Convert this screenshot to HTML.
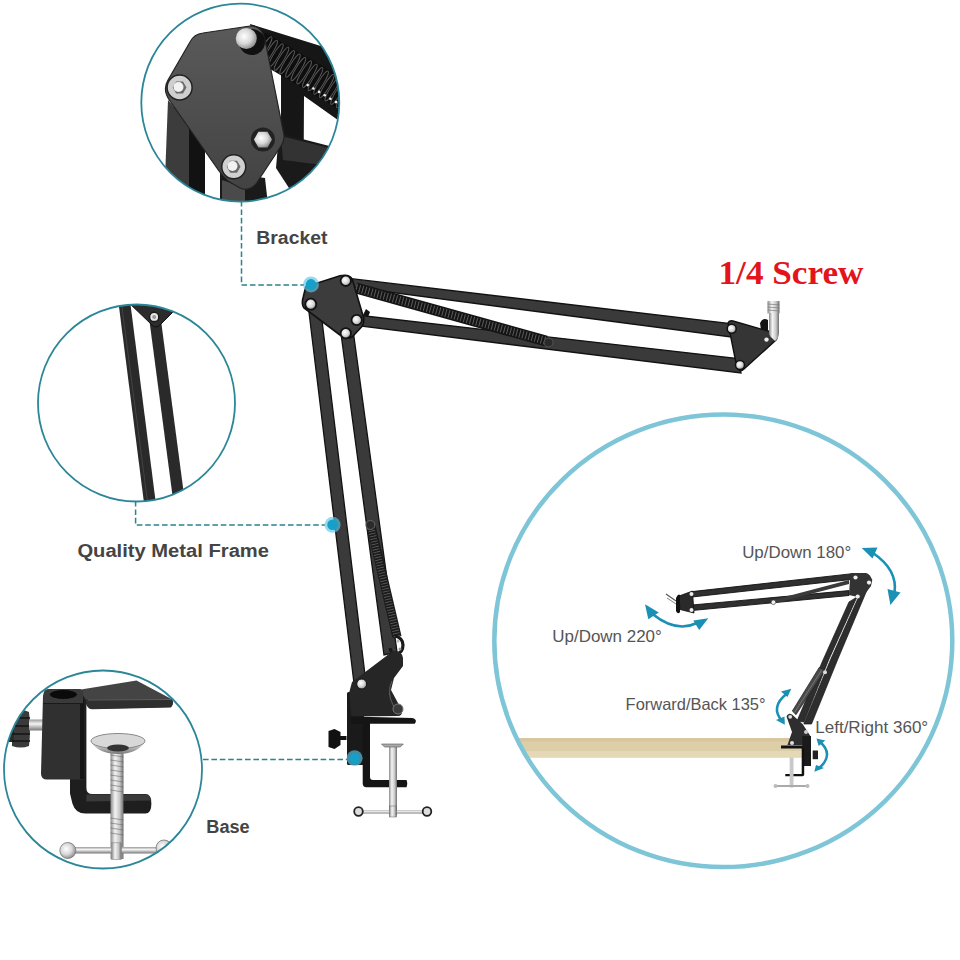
<!DOCTYPE html>
<html><head><meta charset="utf-8">
<style>
html,body{margin:0;padding:0;background:#fff;width:960px;height:960px;overflow:hidden}
svg{position:absolute;left:0;top:0;display:block}
</style></head>
<body>
<svg width="960" height="960" viewBox="0 0 960 960">
<defs>
  <clipPath id="c1"><circle cx="240.3" cy="102.6" r="99"/></clipPath>
  <clipPath id="c2"><circle cx="136.5" cy="403" r="98.5"/></clipPath>
  <clipPath id="c3"><circle cx="103" cy="769.5" r="99"/></clipPath>
  <clipPath id="c4"><ellipse cx="723.3" cy="640.8" rx="229" ry="226.3"/></clipPath>
  <linearGradient id="plate1" x1="0" y1="0" x2="0" y2="1">
    <stop offset="0" stop-color="#5a5a5a"/><stop offset="1" stop-color="#434343"/>
  </linearGradient>
  <radialGradient id="bolt" cx="0.4" cy="0.4" r="0.7">
    <stop offset="0" stop-color="#ffffff"/><stop offset="0.5" stop-color="#d8d8d8"/><stop offset="1" stop-color="#7a7a7a"/>
  </radialGradient>
  <linearGradient id="silver" x1="0" y1="0" x2="1" y2="0">
    <stop offset="0" stop-color="#8a8a8a"/><stop offset="0.35" stop-color="#f4f4f4"/><stop offset="0.7" stop-color="#c8c8c8"/><stop offset="1" stop-color="#6e6e6e"/>
  </linearGradient>
  <linearGradient id="silverv" x1="0" y1="0" x2="0" y2="1">
    <stop offset="0" stop-color="#9a9a9a"/><stop offset="0.4" stop-color="#f4f4f4"/><stop offset="1" stop-color="#777"/>
  </linearGradient>
</defs>

<!-- ===== Circle 1 : Bracket ===== -->
<g clip-path="url(#c1)">
  <!-- legs -->
  <polygon points="168,100 190,125 190,205 164,205" fill="#3c3c3c"/>
  <polygon points="189,125 205,145 205,205 189,205" fill="#121212"/>
  <polygon points="220,172 265,178 268,205 220,205" fill="#1a1a1a"/>
  <polygon points="222,180 245,188 245,205 222,205" fill="#4a4a4a"/>
  <!-- back vertical bar & top bar -->
  <polygon points="250,24 340,52 345,60 345,125 304,96 303.75,140 281,140 281,70 258,56" fill="#161616"/>
  <!-- lower bar -->
  <polygon points="279,133 345,150 345,205 300,205 276,168" fill="#1a1a1a"/>
  <polygon points="281,136 345,152 345,168 283,160" fill="#333"/>
  <!-- spring -->
  <line x1="258" y1="45" x2="350" y2="99" stroke="#0e0e0e" stroke-width="29"/>
  <ellipse cx="264.6" cy="48.5" rx="2.6" ry="13.5" transform="rotate(31.1 264.6 48.5)" fill="none" stroke="#6a6a6a" stroke-width="0.9" opacity="0.8"/>
  <ellipse cx="270.2" cy="52.0" rx="2.6" ry="13.5" transform="rotate(31.1 270.2 52.0)" fill="none" stroke="#6a6a6a" stroke-width="0.9" opacity="0.8"/>
  <ellipse cx="275.9" cy="55.4" rx="2.6" ry="13.5" transform="rotate(31.1 275.9 55.4)" fill="none" stroke="#6a6a6a" stroke-width="0.9" opacity="0.8"/>
  <ellipse cx="281.5" cy="58.8" rx="2.6" ry="13.5" transform="rotate(31.1 281.5 58.8)" fill="none" stroke="#6a6a6a" stroke-width="0.9" opacity="0.8"/>
  <ellipse cx="287.2" cy="62.2" rx="2.6" ry="13.5" transform="rotate(31.1 287.2 62.2)" fill="none" stroke="#6a6a6a" stroke-width="0.9" opacity="0.8"/>
  <ellipse cx="292.9" cy="65.6" rx="2.6" ry="13.5" transform="rotate(31.1 292.9 65.6)" fill="none" stroke="#6a6a6a" stroke-width="0.9" opacity="0.8"/>
  <ellipse cx="298.5" cy="69.0" rx="2.6" ry="13.5" transform="rotate(31.1 298.5 69.0)" fill="none" stroke="#6a6a6a" stroke-width="0.9" opacity="0.8"/>
  <ellipse cx="304.2" cy="72.4" rx="2.6" ry="13.5" transform="rotate(31.1 304.2 72.4)" fill="none" stroke="#6a6a6a" stroke-width="0.9" opacity="0.8"/>
  <ellipse cx="309.8" cy="75.8" rx="2.6" ry="13.5" transform="rotate(31.1 309.8 75.8)" fill="none" stroke="#6a6a6a" stroke-width="0.9" opacity="0.8"/>
  <ellipse cx="315.5" cy="79.2" rx="2.6" ry="13.5" transform="rotate(31.1 315.5 79.2)" fill="none" stroke="#6a6a6a" stroke-width="0.9" opacity="0.8"/>
  <ellipse cx="321.1" cy="82.6" rx="2.6" ry="13.5" transform="rotate(31.1 321.1 82.6)" fill="none" stroke="#6a6a6a" stroke-width="0.9" opacity="0.8"/>
  <ellipse cx="326.8" cy="86.0" rx="2.6" ry="13.5" transform="rotate(31.1 326.8 86.0)" fill="none" stroke="#6a6a6a" stroke-width="0.9" opacity="0.8"/>
  <ellipse cx="332.4" cy="89.4" rx="2.6" ry="13.5" transform="rotate(31.1 332.4 89.4)" fill="none" stroke="#6a6a6a" stroke-width="0.9" opacity="0.8"/>
  <ellipse cx="338.1" cy="92.8" rx="2.6" ry="13.5" transform="rotate(31.1 338.1 92.8)" fill="none" stroke="#6a6a6a" stroke-width="0.9" opacity="0.8"/>
  <ellipse cx="343.8" cy="96.2" rx="2.6" ry="13.5" transform="rotate(31.1 343.8 96.2)" fill="none" stroke="#6a6a6a" stroke-width="0.9" opacity="0.8"/>
  <ellipse cx="349.4" cy="99.6" rx="2.6" ry="13.5" transform="rotate(31.1 349.4 99.6)" fill="none" stroke="#6a6a6a" stroke-width="0.9" opacity="0.8"/>
  <circle cx="307.7" cy="85.1" r="1.3" fill="#eee"/>
  <circle cx="313.4" cy="88.5" r="1.3" fill="#eee"/>
  <circle cx="319.1" cy="91.9" r="1.3" fill="#eee"/>
  <circle cx="324.7" cy="95.3" r="1.3" fill="#eee"/>
  <circle cx="330.4" cy="98.7" r="1.3" fill="#eee"/>
  <circle cx="336.0" cy="102.1" r="1.3" fill="#eee"/>
  <circle cx="341.7" cy="105.5" r="1.3" fill="#eee"/>
  <circle cx="347.3" cy="108.9" r="1.3" fill="#eee"/>
  <!-- plate -->
  <path d="M203,33 L250,26 Q262,25 265,40 L283,130 Q286,139 281,146 L256,184 Q249,192 240,188 L228,181 Q223,177 219,171 L170,101 Q162,90 168,80 L190,42 Q194,34 203,33 Z" fill="url(#plate1)" stroke="#222" stroke-width="1.2"/>
  <!-- bolts -->
  <circle cx="252" cy="42" r="13" fill="#101010"/>
  <circle cx="246.3" cy="38.5" r="10.5" fill="url(#bolt)"/>
  <circle cx="179.6" cy="87.5" r="12.5" fill="#cfcfcf" stroke="#222" stroke-width="1.5"/>
  <polygon points="186.5,87.5 183,93.5 176.2,93.5 172.7,87.5 176.2,81.5 183,81.5" fill="#6a6a6a"/>
  <circle cx="178.5" cy="87" r="5" fill="#f2f2f2"/>
  <circle cx="262.9" cy="139.6" r="12" fill="#222"/>
  <polygon points="272,139.6 267.5,147.5 258.4,147.5 253.9,139.6 258.4,131.7 267.5,131.7" fill="url(#bolt)"/>
  <circle cx="233.75" cy="166.7" r="12" fill="#d0d0d0" stroke="#222" stroke-width="1.5"/>
  <polygon points="240.5,166.7 237,172.7 230.2,172.7 226.7,166.7 230.2,160.7 237,160.7" fill="#6a6a6a"/>
  <circle cx="232.5" cy="166" r="5" fill="#f2f2f2"/>
</g>
<circle cx="240.3" cy="102.6" r="99" fill="none" stroke="#2b8797" stroke-width="1.8"/>

<!-- ===== Circle 2 : Metal frame ===== -->
<g clip-path="url(#c2)">
  <polygon points="117.5,295 129.3,295 156.7,510 144.9,510" fill="#2a2a2a"/>
  <polygon points="149.6,322 161.2,322 186,510 174.4,510" fill="#2a2a2a"/>
  <line x1="121" y1="300" x2="148" y2="505" stroke="#444" stroke-width="1"/>
  <path d="M126,300 L173,305 Q177,307 172,313 L160,325 Q156,329 152,325 Z" fill="#2c2c2c" stroke="#111" stroke-width="1"/>
  <circle cx="154.2" cy="316.9" r="4.6" fill="#e6e6e6" stroke="#1a1a1a" stroke-width="1.4"/>
  <circle cx="154.2" cy="316.9" r="2" fill="#9a9a9a"/>
</g>
<circle cx="136.5" cy="403" r="98.5" fill="none" stroke="#2b8797" stroke-width="1.8"/>

<!-- ===== Circle 3 : Base ===== -->
<g clip-path="url(#c3)">
  <!-- knob -->
  <path d="M12,712 q9,-4 17,0 q2,17 0,34 q-8,3 -17,0 z" fill="#3a3a3a"/>
  <rect x="6" y="718" width="8" height="24" fill="#2a2a2a"/>
  <g stroke="#151515" stroke-width="1.6"><line x1="12" y1="718" x2="30" y2="718"/><line x1="12" y1="726" x2="30" y2="726"/><line x1="12" y1="734" x2="30" y2="734"/><line x1="12" y1="741" x2="30" y2="741"/></g>
  <rect x="29" y="719.5" width="16" height="11" fill="url(#silverv)"/>
  <!-- C vertical + bottom arm -->
  <path d="M70,690 h17 v14 h-0.6 v84 q0,6 6,6 h53 q6,0 6,9.5 q0,10 -6,10 h-60 q-10,0 -13,-10 l-2.4,-10 z" fill="#1e1e1e"/>
  <path d="M86.4,794.5 h59 q5,0 6,6 l-65,1 z" fill="#3a3a3a"/>
  
  <!-- top arm -->
  <path d="M79.4,689.7 L136.5,680.4 L170.5,698.4 Q175,701.5 171,707 L92.5,709 L86,700 Z" fill="#444"/>
  <path d="M86,699.5 L171.5,699 Q175,702 171,707.5 L92.5,709.3 Q88,709.5 86,704 Z" fill="#2f2f2f"/>
  <line x1="88" y1="700" x2="171" y2="699.5" stroke="#6a6a6a" stroke-width="0.8"/>
  <!-- post -->
  <path d="M43.5,695 q0,-6 6,-6 h29.5 q4,0 4,6 v84.4 h-36 q-6,0 -6,-6 l2,-78 z" fill="#303030"/>
  <rect x="80" y="700" width="4" height="79" fill="#151515"/>
  <path d="M43.5,695 q0,-6 6,-6 h29.5 q4,0 4,6 v8 h-39.5 z" fill="#3a3a3a"/>
  <line x1="43.5" y1="703.5" x2="83" y2="703.5" stroke="#1a1a1a" stroke-width="1.2"/>
  <ellipse cx="63.4" cy="694.5" rx="14" ry="5" fill="#0a0a0a" stroke="#444" stroke-width="0.8"/>
  <!-- screw -->
  <rect x="110.5" y="748" width="13" height="111" fill="url(#silver)"/>
  <g stroke="#666" stroke-width="0.8" opacity="0.7">
    <line x1="110.5" y1="755" x2="123.5" y2="757"/><line x1="110.5" y1="760" x2="123.5" y2="762"/>
    <line x1="110.5" y1="765" x2="123.5" y2="767"/><line x1="110.5" y1="770" x2="123.5" y2="772"/>
    <line x1="110.5" y1="775" x2="123.5" y2="777"/><line x1="110.5" y1="780" x2="123.5" y2="782"/>
    <line x1="110.5" y1="785" x2="123.5" y2="787"/><line x1="110.5" y1="790" x2="123.5" y2="792"/>
    <line x1="110.5" y1="818" x2="123.5" y2="820"/><line x1="110.5" y1="823" x2="123.5" y2="825"/>
    <line x1="110.5" y1="828" x2="123.5" y2="830"/><line x1="110.5" y1="833" x2="123.5" y2="835"/>
  </g>
  <!-- cup -->
  <path d="M91,742 q27,-16 54,0 q-8,12 -27,12 q-19,0 -27,-12 z" fill="url(#silverv)"/>
  <ellipse cx="118" cy="741" rx="27" ry="7.5" fill="#d8d8d8" stroke="#888" stroke-width="1"/>
  <ellipse cx="118" cy="748" rx="11" ry="3.5" fill="#333"/>
  <!-- T handle -->
  <rect x="66" y="847" width="98" height="6.5" fill="url(#silverv)"/>
  <circle cx="67.8" cy="850.5" r="8" fill="url(#bolt)" stroke="#777" stroke-width="0.8"/>
  <circle cx="164" cy="848" r="8" fill="url(#bolt)" stroke="#777" stroke-width="0.8"/>
  <rect x="111.6" y="842.8" width="9.8" height="16.5" fill="url(#silver)" stroke="#888" stroke-width="0.6"/>
</g>
<circle cx="103" cy="769.5" r="99" fill="none" stroke="#2b8797" stroke-width="1.8"/>

<!-- ===== Main arm ===== -->
<g id="arm">
  <!-- top arm bars -->
  <polygon points="345,277.9 730,323.6 731,337 350,287" fill="#3a3a3a" stroke="#121212" stroke-width="1.3"/>
  <polygon points="352,314.5 738,358.6 741,373 352,325" fill="#3a3a3a" stroke="#121212" stroke-width="1.3"/>
  <!-- spring top -->
  <line x1="356" y1="288" x2="546" y2="341" stroke="#141414" stroke-width="11"/>
  <line x1="356" y1="288" x2="546" y2="341" stroke="#e0e0e0" stroke-width="8" stroke-dasharray="1 2.2" opacity="0.35"/>
  <circle cx="548.5" cy="342.5" r="4.5" fill="#2a2a2a" stroke="#555" stroke-width="1"/>
  <!-- vertical left bar -->
  <polygon points="307.5,300 319.5,300 366,683 354,683" fill="#3a3a3a" stroke="#121212" stroke-width="1.3"/>
  <!-- vertical right bar -->
  <polygon points="340.5,330 353,330 397,652 384,655" fill="#3a3a3a" stroke="#121212" stroke-width="1.3"/>
  <!-- spring vertical -->
  <polygon points="366.5,527 375.5,525 401.5,636 392.5,638" fill="#1a1a1a"/>
  <line x1="371" y1="528" x2="397" y2="637" stroke="#9a9a9a" stroke-width="7" stroke-dasharray="0.9 1.8" opacity="0.5"/>
  <circle cx="370.4" cy="525" r="4.5" fill="#2a2a2a" stroke="#666" stroke-width="1"/>
  <path d="M395,636 q8,2 8,9 q0,8 -7,9 q-5,0 -6,-6" fill="none" stroke="#1a1a1a" stroke-width="3.2"/>
  <circle cx="398" cy="641" r="1.6" fill="#bbb"/>
  <circle cx="400" cy="649" r="1.5" fill="#999"/>
  <!-- main bracket plate -->
  <path d="M305.8,286.7 L340,275.8 Q350,274 352.5,280 L363.3,316.7 Q365,322 361.7,326.7 L352,337 Q346,340 340,335 L304,308 Q301,304 303.3,296.7 Z" fill="#3c3c3c" stroke="#111" stroke-width="1.6"/>
  <path d="M366,309 l4,3 l-2,5 l-5,-2 z" fill="#111"/>
  <circle cx="345.8" cy="280.8" r="5.2" fill="url(#bolt)" stroke="#111" stroke-width="1.8"/>
  <circle cx="310.8" cy="304.2" r="5.5" fill="url(#bolt)" stroke="#111" stroke-width="1.8"/>
  <circle cx="356.7" cy="320" r="5.2" fill="url(#bolt)" stroke="#111" stroke-width="1.8"/>
  <circle cx="345.8" cy="333.3" r="5.2" fill="url(#bolt)" stroke="#111" stroke-width="1.8"/>
  <!-- end plate -->
  <path d="M728,323 Q729,320 733,321 L775,333 Q779,336 776,340 L744,369 Q740,373 737,368 Z" fill="#353535" stroke="#111" stroke-width="1.4"/>
  <rect x="767.5" y="301" width="12" height="12.5" fill="url(#silver)"/>
  <g stroke="#777" stroke-width="0.7"><line x1="767.5" y1="304" x2="779.5" y2="305"/><line x1="767.5" y1="307" x2="779.5" y2="308"/><line x1="767.5" y1="310" x2="779.5" y2="311"/></g>
  <path d="M769,313 h10 v20 q0,5 -4,8 l-3,-3 q-3,-2 -3,-6 z" fill="url(#silver)"/>
  <path d="M760,323 q3,-6 8,-3 l0,10 l-7,0 z" fill="#141414"/>
  <circle cx="731.7" cy="328.8" r="4.5" fill="url(#bolt)" stroke="#111" stroke-width="1.5"/>
  <circle cx="740" cy="365" r="4.5" fill="url(#bolt)" stroke="#111" stroke-width="1.5"/>
  <circle cx="766.5" cy="339.6" r="2.2" fill="#eee"/>
  <!-- lower bracket -->
  <rect x="347" y="692" width="17" height="73" rx="1.5" fill="#1a1a1a"/>
  <path d="M352,682 L393,651 Q402,650 403,658 L403,666 L394,678 L391,690 L402.3,711 Q402,716 398,716 L351.25,716.5 L349.2,692.5 Z" fill="#262626"/>
  <path d="M392,681 q-6,12 2,26" fill="none" stroke="#555" stroke-width="1.2"/>
  <circle cx="361.7" cy="684" r="5" fill="url(#bolt)" stroke="#111" stroke-width="1"/>
  <circle cx="398" cy="709" r="5" fill="#3a3a3a" stroke="#777" stroke-width="1"/>
  <!-- C clamp -->
  <path d="M351,716.5 L412,718 Q416.5,719 415.8,721.7 L414.8,723.75 L368,723.75 L351,723.75 Z" fill="#151515"/>
  <path d="M362.7,723 h7.3 v54 q0,3 3,3 h33.5 q1.5,3.5 0,7.3 h-40 q-3.8,0 -3.8,-4 z" fill="#151515"/>
  <path d="M328.5,731 l6,-2 l6,3 l0,4 l6,0 l0,4 l-6,0 l0,5 l-6,4 l-6,-2 z" fill="#111"/>
  <!-- screw -->
  <rect x="389" y="745" width="8" height="70" fill="url(#silver)"/>
  <path d="M381.5,744 h21.8 l-3,3 h-15.8 z" fill="#aaa" stroke="#555" stroke-width="0.6"/>
  <rect x="357" y="810.5" width="71" height="3" fill="url(#silverv)"/>
  <circle cx="358.5" cy="811.5" r="4.3" fill="#ddd" stroke="#222" stroke-width="1.8"/>
  <circle cx="427" cy="811.5" r="4.3" fill="#ddd" stroke="#222" stroke-width="1.8"/>
  <rect x="389.5" y="806" width="7" height="11" fill="url(#silver)" stroke="#666" stroke-width="0.5"/>
</g>

<!-- ===== connectors ===== -->
<g fill="none" stroke="#2a8390" stroke-width="1.5" stroke-dasharray="5.6 2.8">
  <path d="M241.5 201 V285 H304"/>
  <path d="M135.6 501 V525 H325"/>
  <path d="M203 759.5 H347"/>
</g>
<g>
  <circle cx="311" cy="284.4" r="8" fill="#5cc6e6" opacity="0.65"/><circle cx="311" cy="284.4" r="5.3" fill="#169fc8"/>
  <circle cx="332.6" cy="524.8" r="8" fill="#5cc6e6" opacity="0.65"/><circle cx="332.6" cy="524.8" r="5.3" fill="#169fc8"/>
  <circle cx="354.6" cy="758.2" r="8" fill="#5cc6e6" opacity="0.65"/><circle cx="354.6" cy="758.2" r="5.3" fill="#169fc8"/>
</g>

<!-- ===== labels ===== -->
<g font-family="Liberation Sans, sans-serif" font-weight="bold" fill="#444" font-size="18">
  <text x="256.3" y="244.3" textLength="71.2" lengthAdjust="spacingAndGlyphs">Bracket</text>
  <text x="77.4" y="556.5" textLength="191.6" lengthAdjust="spacingAndGlyphs">Quality Metal Frame</text>
  <text x="206.3" y="832.8" textLength="43.4" lengthAdjust="spacingAndGlyphs">Base</text>
</g>
<text x="718.5" y="284.3" font-family="Liberation Serif, serif" font-weight="bold" font-size="33.5" fill="#e3141c" textLength="145" lengthAdjust="spacingAndGlyphs">1/4 Screw</text>

<!-- ===== Right circle ===== -->
<g clip-path="url(#c4)">
  <rect x="490" y="738" width="313" height="19.5" fill="#dccea6"/>
  <rect x="490" y="738" width="313" height="3.5" fill="#d9c6a0"/>
  <rect x="490" y="751" width="313" height="6.5" fill="#e4d8b6"/>
</g>
<g id="smallarm">
  <!-- top bars -->
  <polygon points="692,591.6 850.4,573.9 851,579.5 692,597" fill="#303030" stroke="#111" stroke-width="0.9"/>
  <polygon points="692,605 849,590.6 849,595.5 692,610.5" fill="#303030" stroke="#111" stroke-width="0.9"/>
  <polygon points="773,600 849,580 849,584 776,603" fill="#3a3a3a"/>
  <circle cx="773.4" cy="602.3" r="2.3" fill="#eee" stroke="#333" stroke-width="0.6"/>
  <!-- left plate -->
  <path d="M679,596 L692.5,591 L694,613 L680,609.5 Z" fill="#2a2a2a" stroke="#111" stroke-width="0.8"/>
  <path d="M676,598 q2,-5 4,-3 l0,17 q-2,3 -4,-1 z" fill="#111"/>
  <line x1="666" y1="594" x2="676" y2="601" stroke="#555" stroke-width="1.1"/>
  <line x1="667" y1="598" x2="676" y2="604" stroke="#777" stroke-width="0.9"/>
  <circle cx="691.5" cy="594" r="2" fill="#eee"/>
  <circle cx="691.5" cy="610" r="2" fill="#eee"/>
  <!-- vertical arm -->
  <polygon points="849,601.9 857,597 828.6,660 804,722 797,721 823,660" fill="#2e2e2e" stroke="#151515" stroke-width="0.7"/>
  <polygon points="859,596 867.5,588.75 837.5,660 811.5,724 803.8,724 830.4,660" fill="#2e2e2e" stroke="#151515" stroke-width="0.7"/>
  <polygon points="819.3,667.3 824.4,671 796,714.7 792.3,711" fill="#4a4a4a" stroke="#222" stroke-width="0.7"/>
  <line x1="822" y1="669.5" x2="794.5" y2="712.5" stroke="#7a7a7a" stroke-width="0.9"/>
  <circle cx="825" cy="672.3" r="2" fill="#ddd"/>
  <!-- right plate -->
  <path d="M850.4,573 L866,573 Q870,574 872.3,580 L871,586 L862,598 L849,595 Z" fill="#333"/>
  <circle cx="855.5" cy="577.5" r="2.1" fill="#eee"/>
  <circle cx="869" cy="582.6" r="2.1" fill="#eee"/>
  <circle cx="857.7" cy="596.5" r="2.1" fill="#eee"/>
  <!-- base bracket -->
  <path d="M786.5,716.5 Q788,712.5 792,714.4 L802.8,724.2 L810.5,736.3 L810.5,745 L787.5,745 L789,740.6 L792,732 Z" fill="#2e2e2e"/>
  <circle cx="790.2" cy="716.8" r="1.9" fill="#ddd"/>
  <circle cx="806" cy="732" r="2" fill="#ccc"/>
  <circle cx="792" cy="743" r="2" fill="#ddd"/>
  <rect x="781" y="745.5" width="22" height="3" fill="#111"/>
  <rect x="802.3" y="736" width="8.7" height="30" fill="#1a1a1a"/>
  <path d="M801.7,748 h2.5 v26.6 q0,1.6 -1.6,1.6 h-17.3 v-2.2 h16.4 z" fill="#111"/>
  <rect x="812.7" y="750.5" width="5.3" height="8.7" fill="#222"/>
  <rect x="789.7" y="757.5" width="3.8" height="30" fill="#c8c8c8"/>
  <rect x="775" y="785" width="33" height="2" fill="#aaa"/>
  <circle cx="775.5" cy="786" r="2" fill="#bbb"/>
  <circle cx="807.5" cy="786" r="2" fill="#bbb"/>
</g>
<!-- arrows -->
<g fill="none" stroke="#1a90b4" stroke-width="2.6" stroke-linecap="round">
  <path d="M873,553 Q898,570 894.5,593"/>
  <path d="M652.5,614 Q676,633 697,623"/>
  <path d="M786.4,694 Q770,707 782,721"/>
  <path d="M819.8,741.7 Q834,754 820.3,767"/>
</g>
<g fill="#1a90b4">
  <polygon points="861.7,548 877.5,547.5 872.5,558.5"/>
  <polygon points="890.4,605 887.5,589 900.5,592.5"/>
  <polygon points="645,604.2 648.3,619.2 658.75,612.5"/>
  <polygon points="708.3,618.3 693.3,620.4 699.2,630"/>
  <polygon points="791.3,688.7 781,691.4 787.5,697"/>
  <polygon points="784.8,724.8 776,720 784.5,716.5"/>
  <polygon points="816.5,738.5 825.25,740.6 818.7,746"/>
  <polygon points="814.3,771.8 816,765 824,768"/>
</g>
<ellipse cx="723.3" cy="640.8" rx="229" ry="226.3" fill="none" stroke="#7ec5d8" stroke-width="4.5"/>
<g font-family="Liberation Sans, sans-serif" fill="#555" font-size="16.5">
  <text x="742.2" y="558" textLength="109" lengthAdjust="spacingAndGlyphs">Up/Down 180°</text>
  <text x="552.3" y="642.2" textLength="109.5" lengthAdjust="spacingAndGlyphs">Up/Down 220°</text>
  <text x="625.6" y="710" textLength="140" lengthAdjust="spacingAndGlyphs">Forward/Back 135°</text>
  <text x="815.2" y="733.4" textLength="113" lengthAdjust="spacingAndGlyphs">Left/Right 360°</text>
</g>
</svg>
</body></html>
